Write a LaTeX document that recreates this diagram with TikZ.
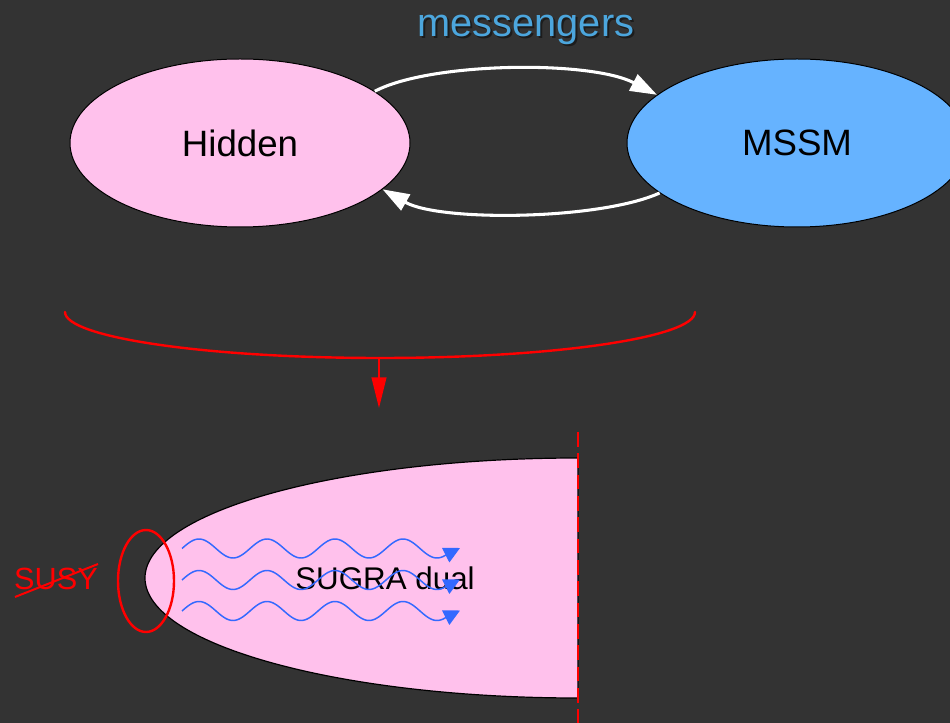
\documentclass[tikz,border=0pt]{standalone}
\usepackage{fontspec}
\setmainfont{Liberation Sans}
\usetikzlibrary{shapes.geometric,arrows.meta}
\definecolor{bg}{HTML}{333333}
\definecolor{pinkfill}{HTML}{FFC1EC}
\definecolor{bluefill}{HTML}{66B3FF}
\definecolor{msgblue}{HTML}{4CA6DD}
\definecolor{wavebl}{HTML}{3369FF}
\definecolor{susyred}{HTML}{FF0000}
\tikzset{
  blob/.style={ellipse, draw=black, line width=0.75pt, minimum width=255pt, minimum height=126pt, inner sep=0pt},
  bigtext/.style={font=\fontsize{27.5}{30}\selectfont},
  msgarrow/.style={draw=white, line width=2.3pt, -{Triangle[length=20pt,width=13.5pt]}},
  redline/.style={draw=susyred, line width=1.8pt},
  wave/.style={draw=wavebl, line width=1.1pt, line join=round, -{Triangle[length=12pt,width=12pt]}},
  midtext/.style={font=\fontsize{23.5}{26}\selectfont}
}
\begin{document}
\begin{tikzpicture}[x=0.75pt, y=-0.75pt]
\fill[bg] (0,0) rectangle (950,723);
\useasboundingbox (0,0) rectangle (950,723);
% top ellipses
\node[blob, fill=pinkfill, bigtext] (hidden) at (240,143) {Hidden};
\node[blob, fill=bluefill, bigtext] (mssm) at (797,143) {MSSM};
% messengers label
\node[font=\fontsize{29.8}{32}\selectfont, text=black, opacity=0.45] at (528,32) {messengers};
\node[font=\fontsize{29.8}{32}\selectfont, text=msgblue] (msg) at (526,30) {messengers};
% connectors
\draw[msgarrow] (hidden.21) .. controls (430,62) and (590,60) .. (mssm.161);
\draw[msgarrow] (mssm.200) .. controls (600,220) and (440,222) .. (hidden.-18);
% red brace
\coordinate (bl) at (65,312);
\coordinate (bb) at (379,358);
\coordinate (bt) at (379,408);
\draw[redline, line cap=round] (bl) arc[start angle=180, end angle=0, x radius=315, y radius=46];
\draw[draw=susyred, line width=1.5pt, -{Triangle[length=23pt,width=11pt]}] (bb) -- (bt);
% bowl
\filldraw[fill=pinkfill, draw=black, line width=0.9pt] (578,458) arc[start angle=270, end angle=90, x radius=433, y radius=120] -- cycle;
\coordinate (dtop) at (578,432);
\coordinate (dbot) at (578,723);
\draw[draw=susyred, line width=1.4pt, dash pattern=on 11pt off 5pt] (dtop) -- (dbot);
% SUGRA text
\node[midtext, text=black] (sugra) at (385,578) {SUGRA dual};
% waves
\foreach \c/\n in {548.5/w1, 580/w2, 611/w3}{
  \coordinate (\n a) at (182,\c);
  \coordinate (\n b) at (460,\c-0.5);
  \draw[wave] plot[domain=182:445, samples=140] (\x, {\c-9.5*sin(5.2941*(\x-182))}) -- (\n b);
}
% red ellipse
\draw[redline] (146,581) ellipse[x radius=28, y radius=51];
% SUSY
\node[midtext, text=susyred, font=\fontsize{23}{26}\selectfont] (susy) at (56,579) {SUSY};
\coordinate (s1) at (15,597);
\coordinate (s2) at (98,564);
\draw[draw=susyred, line width=1.5pt] (s1) -- (s2);
\end{tikzpicture}
\end{document}
